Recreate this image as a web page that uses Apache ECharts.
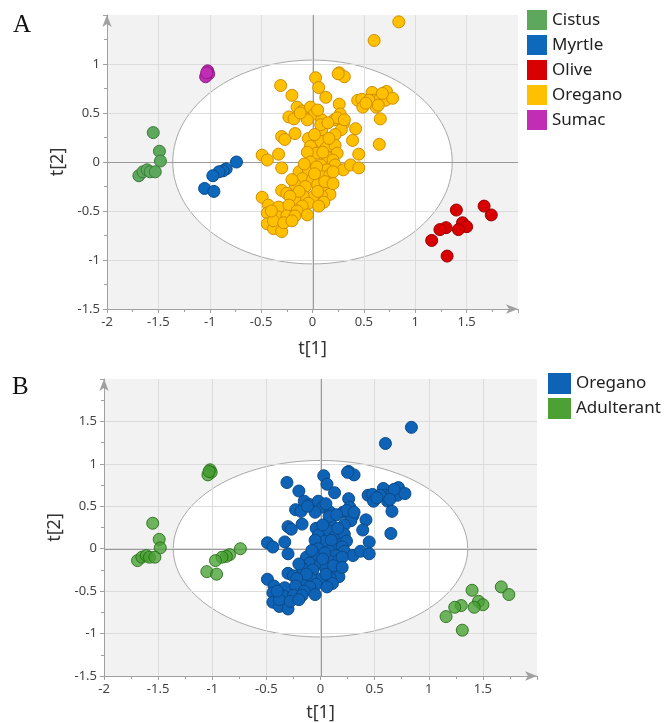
<!DOCTYPE html>
<html><head><meta charset="utf-8">
<script src="https://cdn.jsdelivr.net/npm/echarts@6/dist/echarts.min.js"></script>
<style>html,body{margin:0;padding:0;background:#fff}#c{width:670px;height:723px}</style>
</head><body><div id="c"></div>
<script>
// ---- data (t[1], t[2]) ----
const cistus = [[-1.55,0.30],[-1.49,0.11],[-1.48,0.01],[-1.69,-0.14],[-1.65,-0.10],[-1.61,-0.08],[-1.58,-0.10],[-1.53,-0.10]];
const myrtle = [[-0.74,0.00],[-0.84,-0.07],[-0.87,-0.09],[-0.91,-0.10],[-0.97,-0.14],[-1.05,-0.27],[-0.96,-0.30]];
const olive = [[1.67,-0.45],[1.74,-0.54],[1.40,-0.49],[1.46,-0.62],[1.50,-0.66],[1.42,-0.69],[1.30,-0.67],[1.24,-0.69],[1.16,-0.80],[1.31,-0.96]];
const sumac = [[-1.02,0.93],[-1.01,0.90],[-1.04,0.87],[-1.03,0.91]];
const oregano = [
 [0.84,1.43],[0.60,1.24],[0.26,0.91],[0.31,0.87],[0.25,0.90],[0.03,0.86],[0.06,0.76],[-0.31,0.78],[-0.20,0.68],[0.13,0.66],[0.26,0.59],
 [0.44,0.63],[0.48,0.64],[0.49,0.56],[0.58,0.71],[0.60,0.63],[0.62,0.56],[0.66,0.65],[0.72,0.72],[0.71,0.63],[0.78,0.65],[0.55,0.63],[0.52,0.60],[0.68,0.70],[0.64,0.58],
 [0.66,0.44],[0.42,0.34],[0.65,0.18],[0.39,0.22],
 [-0.15,0.56],[-0.10,0.52],[-0.02,0.56],[0.02,0.49],[-0.05,0.43],[-0.23,0.46],[-0.18,0.44],[0.09,0.43],[0.21,0.43],[0.27,0.49],[0.30,0.39],[0.28,0.33],[0.22,0.28],[0.09,0.33],[0.08,0.38],[-0.12,0.50],[0.05,0.53],[0.24,0.45],[0.31,0.43],[0.15,0.40],
 [-0.30,0.26],[-0.27,0.23],[-0.17,0.29],
 [-0.04,0.24],[0.08,0.21],[-0.02,0.16],[0.04,0.09],[0.13,0.14],[0.22,0.17],[0.24,0.09],[0.14,0.05],[0.02,0.28],[0.16,0.24],[0.10,0.10],[-0.05,0.10],[0.20,0.02],
 [0.45,0.08],[-0.49,0.07],[-0.44,0.02],[-0.33,0.08],[-0.30,-0.06],
 [0.22,-0.03],[0.30,-0.08],[0.37,-0.03],[0.45,-0.06],
 [-0.02,0.00],[0.08,-0.03],[0.14,-0.08],[-0.13,-0.10],[-0.04,-0.08],[-0.10,-0.17],[0.00,-0.18],[0.09,-0.15],[0.17,-0.13],[-0.17,-0.23],[-0.07,-0.25],[0.05,-0.23],[0.15,-0.26],[0.17,-0.33],[0.09,-0.35],[0.00,-0.36],[-0.09,-0.35],[-0.17,-0.39],[-0.04,-0.42],[0.11,-0.41],[-0.30,-0.29],[-0.25,-0.32],
 [0.04,-0.05],[0.20,-0.10],[-0.08,-0.02],[0.12,-0.20],[-0.13,-0.30],[0.05,-0.30],[-0.20,-0.18],[0.02,-0.12],[-0.10,-0.45],[0.06,-0.45],[0.20,-0.22],[-0.22,-0.35],
 [-0.49,-0.36],[-0.43,-0.44],[-0.33,-0.46],[-0.23,-0.44],[-0.15,-0.50],[-0.05,-0.54],[-0.44,-0.52],[-0.34,-0.56],[-0.25,-0.55],[-0.17,-0.55],[-0.44,-0.63],[-0.38,-0.68],[-0.30,-0.71],[-0.38,-0.60],[-0.28,-0.62],[-0.40,-0.50],[-0.20,-0.60]
];
const adulterant = cistus.concat(myrtle, olive, sumac);
// Hotelling ellipse: [centerX, centerY, radiusX, radiusY]
const ellipseA = [[0, 0, 1.36, 1.04]];
const ellipseB = [[0, 0, 1.36, 1.04]];
const zeroPoint = [[0, 0]];
const xRange = [-2, 2];
const yRangeA = [-1.5, 1.5];
const yRangeB = [-1.5, 2];
const legendA = ['Cistus','Myrtle','Olive','Oregano','Sumac'];
const legendB = ['Oregano','Adulterant'];

const FONT = 'Noto Sans';
const colA = {Cistus:['#5DA85D','#3C7A3C'], Myrtle:['#0E68BC','#094A88'], Olive:['#D80000','#990000'], Oregano:['#FFC000','#D08E00'], Sumac:['#C22DB5','#8A1E80']};
const colB = {Oregano:['#0F63B6','#0A4A8A'], Adulterant:['rgba(72,160,50,0.78)','rgba(40,110,25,0.9)']};

function xAxisCfg(gi){
  return {gridIndex:gi, type:'value', min:xRange[0], max:xRange[1], interval:0.5,
    axisLine:{show:true, onZero:false, symbol:['none','arrow'], symbolSize:[7,12], lineStyle:{color:'#A0A0A0'}},
    axisTick:{show:true, length:4, lineStyle:{color:'#A0A0A0'}},
    minorTick:{show:true, splitNumber:2, length:3, lineStyle:{color:'#A0A0A0'}},
    splitLine:{show:true, showMaxLine:false, lineStyle:{color:'#DCDCDC'}},
    axisLabel:{showMaxLabel:false, fontFamily:FONT, fontSize:13, color:'#444', margin:7},
    name:'t[1]', nameLocation:'middle', nameGap: gi===0?31:28, nameTextStyle:{fontFamily:FONT, fontSize:18, color:'#333'}};
}
function yAxisCfg(gi, r){
  return {gridIndex:gi, type:'value', min:r[0], max:r[1], interval:0.5,
    axisLine:{show:true, onZero:false, symbol:['none','arrow'], symbolSize:[7,12], lineStyle:{color:'#A0A0A0'}},
    axisTick:{show:true, length:4, lineStyle:{color:'#A0A0A0'}},
    minorTick:{show:true, splitNumber:2, length:3, lineStyle:{color:'#A0A0A0'}},
    splitLine:{show:true, showMaxLine:false, lineStyle:{color:'#DCDCDC'}},
    axisLabel:{showMaxLabel:false, fontFamily:FONT, fontSize:13, color:'#444', margin:7},
    name:'t[2]', nameLocation:'middle', nameGap: gi===0?32:31, nameTextStyle:{fontFamily:FONT, fontSize:18, color:'#333'}};
}
function bgSeries(gi, data){
  return {type:'custom', xAxisIndex:gi, yAxisIndex:gi, z:-1, silent:true, clip:false, data:data,
    renderItem:function(params, api){
      const cs = params.coordSys;
      const c = api.coord([api.value(0), api.value(1)]);
      const rx = api.size([api.value(2), 0])[0];
      const ry = api.size([0, api.value(3)])[1];
      return {type:'group', children:[
        {type:'rect', shape:{x:cs.x, y:cs.y, width:cs.width, height:cs.height}, style:{fill:'#F2F2F2'}},
        {type:'ellipse', shape:{cx:c[0], cy:c[1], rx:rx, ry:ry}, style:{fill:'#FFFFFF', stroke:'#A8A8A8', lineWidth:1}}
      ]};
    }};
}
function zeroSeries(gi){
  return {type:'custom', xAxisIndex:gi, yAxisIndex:gi, z:1, silent:true, data:zeroPoint,
    renderItem:function(params, api){
      const cs = params.coordSys;
      const c = api.coord([api.value(0), api.value(1)]);
      const st = {stroke:'#9A9A9A', lineWidth:1};
      return {type:'group', children:[
        {type:'line', shape:{x1:cs.x, y1:Math.round(c[1])+0.5, x2:cs.x+cs.width, y2:Math.round(c[1])+0.5}, style:st},
        {type:'line', shape:{x1:Math.round(c[0])+0.5, y1:cs.y, x2:Math.round(c[0])+0.5, y2:cs.y+cs.height}, style:st}
      ]};
    }};
}
function scat(gi, name, data, col){
  return {type:'scatter', name:name, xAxisIndex:gi, yAxisIndex:gi, z:2, data:data, symbolSize:12,
    itemStyle:{color:col[0], borderColor:col[1], borderWidth:1, opacity:1}};
}

const series = [bgSeries(0, ellipseA), zeroSeries(0)];
legendA.forEach(n => {
  const d = {Cistus:cistus, Myrtle:myrtle, Olive:olive, Oregano:oregano, Sumac:sumac}[n];
  series.push(scat(0, n, d, colA[n]));
});
series.push(bgSeries(1, ellipseB), zeroSeries(1));
series.push(scat(1, 'Oregano', oregano, colB.Oregano));
series.push(scat(1, 'Adulterant', adulterant, colB.Adulterant));

const chart = echarts.init(document.getElementById('c'), null, {renderer:'canvas'});
chart.setOption({
  animation:false,
  backgroundColor:'#fff',
  grid:[{left:107, top:15, width:411, height:294}, {left:104, top:379, width:433, height:298}],
  xAxis:[xAxisCfg(0), xAxisCfg(1)],
  yAxis:[yAxisCfg(0, yRangeA), yAxisCfg(1, yRangeB)],
  legend:[
    {orient:'vertical', left:527, top:10, padding:0, itemGap:5, itemWidth:20, itemHeight:20, icon:'rect',
     selectedMode:false, textStyle:{fontFamily:FONT, fontSize:17, color:'#222'},
     data: legendA.map(n => ({name:n, itemStyle:{color:colA[n][0], borderWidth:0, opacity:1}}))},
    {orient:'vertical', left:548, top:373, padding:0, itemGap:4, itemWidth:23, itemHeight:21, icon:'rect',
     selectedMode:false, textStyle:{fontFamily:FONT, fontSize:17, color:'#222'},
     data: legendB.map(n => ({name:n, itemStyle:{color: n==='Oregano'?'#0F63B6':'#4CA035', borderWidth:0, opacity:1}}))}
  ],
  graphic:[
    {type:'text', left:13, top:13, style:{text:'A', font:'25px "Liberation Serif"', fill:'#111'}},
    {type:'text', left:12, top:375, style:{text:'B', font:'25px "Liberation Serif"', fill:'#111'}}
  ],
  series: series
});
</script>
</body></html>
